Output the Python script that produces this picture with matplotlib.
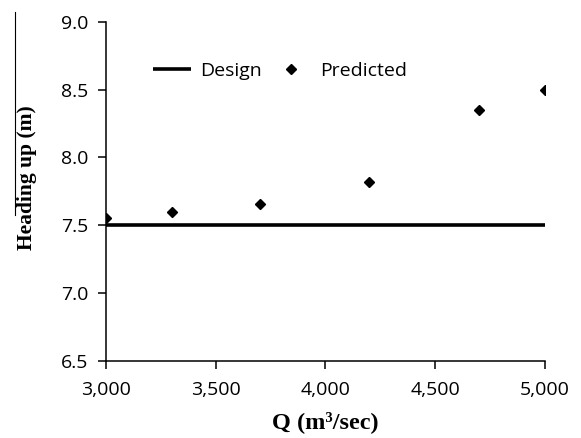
import matplotlib.pyplot as plt
from matplotlib.lines import Line2D
from matplotlib.ticker import FuncFormatter

# data
q = [3000, 3300, 3700, 4200, 4700, 5000]
predicted = [7.55, 7.60, 7.66, 7.82, 8.35, 8.50]
design_q = [3000, 5000]
design = [7.5, 7.5]

xticks = [3000, 3500, 4000, 4500, 5000]
yticks = [6.5, 7.0, 7.5, 8.0, 8.5, 9.0]

fig = plt.figure(figsize=(5.81, 4.38), dpi=100)
ax = fig.add_axes([0.1824, 0.1758, 0.7556, 0.7747])

ax.plot(design_q, design, color="black", lw=2.6, label="Design", solid_capstyle="butt")
ax.plot(q, predicted, "D", color="black", ms=5, ls="none", label="Predicted")

ax.set_xlim(3000, 5000)
ax.set_ylim(6.5, 9.0)
ax.set_xticks(xticks)
ax.set_yticks(yticks)
ax.xaxis.set_major_formatter(FuncFormatter(lambda v, p: f"{v:,.0f}"))
ax.yaxis.set_major_formatter(FuncFormatter(lambda v, p: f"{v:.1f}"))

for s in ["top", "right"]:
    ax.spines[s].set_visible(False)
for s in ["left", "bottom"]:
    ax.spines[s].set_linewidth(1.1)
ax.tick_params(direction="out", length=5.5, width=1.1, labelsize=14)
ax.tick_params(axis="x", pad=9)
ax.tick_params(axis="y", pad=7)
for lab in ax.get_xticklabels() + ax.get_yticklabels():
    lab.set_fontfamily("Open Sans")

ax.set_xlabel("Q (m³/sec)", fontfamily="Liberation Serif", fontweight="bold",
              fontsize=17.5)
ax.set_ylabel("Heading up (m)", fontfamily="Liberation Serif", fontweight="bold",
              fontsize=15.5)
ax.xaxis.set_label_coords(0.5, -0.148)
ax.yaxis.set_label_coords(-0.157, 0.54)

leg = ax.legend(loc="center", bbox_to_anchor=(0.396, 0.854), ncol=2, frameon=False,
                prop={"family": "Open Sans", "size": 14}, handlelength=1.95,
                columnspacing=0.5, handletextpad=0.5)

# stray frame edge at the far left of the original image
fig.add_artist(Line2D([15 / 581, 15 / 581], [1 - 12 / 438, 1 - 215 / 438],
                      transform=fig.transFigure, color="black", lw=0.8))

fig.savefig("out.png", dpi=100)
